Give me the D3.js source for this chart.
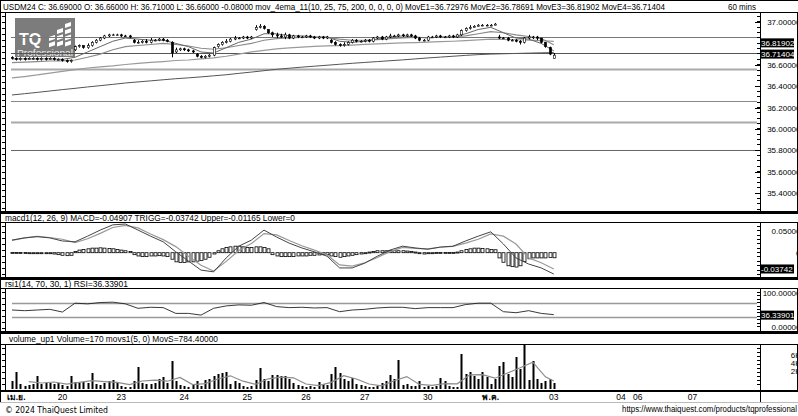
<!DOCTYPE html>
<html><head><meta charset="utf-8">
<script src="https://cdn.jsdelivr.net/npm/d3@7/dist/d3.min.js"></script>
<style>
html,body{margin:0;padding:0;background:#fff;overflow:hidden;}
svg{display:block;}
</style></head><body>
<svg id="chart" width="798" height="416"></svg>
<script>
// ---------------- data ----------------
const headerText = "USDM24 C: 36.69000 O: 36.66000 H: 36.71000 L: 36.66000 -0.08000 mov_4ema_11(10, 25, 75, 200, 0, 0, 0, 0) MovE1=36.72976 MovE2=36.78691 MovE3=36.81902 MovE4=36.71404";
const timeframe = "60 mins";
const macdTitle = "macd1(12, 26, 9) MACD=-0.04907 TRIGG=-0.03742 Upper=-0.01165 Lower=0";
const rsiTitle = "rsi1(14, 70, 30, 1) RSI=36.33901";
const volTitle = "volume_up1 Volume=170 movs1(5, 0) MovS=784.40000";
const footerLeft = "© 2024 ThaiQuest Limited";
const footerRight = "https://www.thaiquest.com/products/tqprofessional";

const opens = [36.67,36.66,36.65,36.66,36.65,36.66,36.66,36.65,36.66,36.65,
 36.66,36.65,36.65,36.64,36.63,36.74,36.77,36.78,36.76,36.78,
 36.81,36.83,36.85,36.87,36.88,36.88,36.88,36.87,36.87,36.83,
 36.81,36.81,36.82,36.81,36.83,36.83,36.84,36.83,36.81,36.72,
 36.74,36.75,36.74,36.73,36.70,36.68,36.67,36.68,36.69,36.77,
 36.79,36.81,36.82,36.84,36.85,36.85,36.86,36.85,36.93,36.95,
 36.96,36.93,36.90,36.88,36.87,36.86,36.88,36.85,36.87,36.86,
 36.86,36.87,36.86,36.85,36.86,36.85,36.83,36.81,36.79,36.78,
 36.79,36.81,36.83,36.82,36.82,36.83,36.82,36.85,36.86,36.84,
 36.86,36.87,36.87,36.88,36.87,36.88,36.87,36.85,36.83,36.83,
 36.86,36.86,36.87,36.86,36.86,36.87,36.86,36.88,36.92,36.94,
 36.95,36.96,36.97,36.97,36.97,36.97,36.86,36.85,36.85,36.83,
 36.83,36.82,36.81,36.85,36.86,36.86,36.85,36.81,36.76,36.66];
const highs = [36.68,36.67,36.67,36.67,36.67,36.67,36.67,36.67,36.67,36.67,
 36.67,36.66,36.66,36.65,36.65,36.78,36.79,36.78,36.80,36.82,
 36.84,36.86,36.88,36.89,36.89,36.89,36.89,36.88,36.88,36.84,
 36.83,36.83,36.84,36.85,36.84,36.85,36.85,36.84,36.82,36.76,
 36.76,36.76,36.75,36.74,36.71,36.69,36.69,36.70,36.77,36.80,
 36.82,36.84,36.85,36.87,36.86,36.87,36.87,36.87,36.97,36.98,
 36.97,36.93,36.91,36.90,36.89,36.90,36.89,36.88,36.88,36.87,
 36.88,36.88,36.87,36.87,36.87,36.87,36.84,36.82,36.80,36.81,
 36.82,36.84,36.84,36.83,36.84,36.84,36.86,36.87,36.87,36.87,
 36.89,36.88,36.89,36.89,36.89,36.89,36.88,36.86,36.84,36.87,
 36.87,36.88,36.88,36.87,36.88,36.88,36.89,36.93,36.95,36.97,
 36.97,36.98,36.98,36.98,36.98,36.99,36.88,36.86,36.86,36.84,
 36.84,36.83,36.86,36.88,36.87,36.87,36.85,36.81,36.77,36.71];
const lows = [36.65,36.64,36.64,36.64,36.65,36.65,36.64,36.64,36.64,36.65,
 36.64,36.64,36.63,36.62,36.62,36.73,36.76,36.75,36.75,36.77,
 36.80,36.82,36.84,36.86,36.87,36.87,36.86,36.86,36.85,36.80,
 36.80,36.80,36.80,36.80,36.82,36.82,36.82,36.81,36.67,36.71,
 36.73,36.73,36.72,36.71,36.67,36.66,36.66,36.67,36.68,36.76,
 36.78,36.80,36.81,36.83,36.84,36.84,36.84,36.84,36.92,36.94,
 36.93,36.89,36.86,36.85,36.85,36.84,36.84,36.84,36.85,36.85,
 36.85,36.85,36.84,36.84,36.84,36.84,36.80,36.78,36.77,36.77,
 36.78,36.80,36.81,36.81,36.81,36.81,36.81,36.84,36.83,36.83,
 36.85,36.86,36.86,36.86,36.86,36.86,36.84,36.82,36.82,36.82,
 36.85,36.85,36.85,36.85,36.85,36.85,36.85,36.87,36.91,36.93,
 36.95,36.96,36.96,36.96,36.96,36.97,36.84,36.84,36.82,36.82,
 36.81,36.79,36.80,36.84,36.84,36.83,36.80,36.76,36.69,36.66];
const closes = [36.66,36.65,36.66,36.65,36.66,36.66,36.65,36.66,36.65,36.66,
 36.65,36.65,36.64,36.63,36.64,36.77,36.78,36.76,36.78,36.81,
 36.83,36.85,36.87,36.88,36.88,36.88,36.87,36.87,36.86,36.81,
 36.81,36.82,36.81,36.83,36.83,36.84,36.83,36.82,36.71,36.74,
 36.75,36.74,36.73,36.72,36.68,36.67,36.68,36.69,36.76,36.79,
 36.81,36.82,36.84,36.85,36.85,36.86,36.85,36.86,36.95,36.96,
 36.94,36.90,36.88,36.87,36.86,36.88,36.85,36.87,36.86,36.86,
 36.87,36.86,36.85,36.86,36.85,36.86,36.81,36.79,36.78,36.79,
 36.81,36.83,36.82,36.82,36.83,36.82,36.85,36.86,36.84,36.86,
 36.87,36.87,36.88,36.87,36.88,36.87,36.85,36.83,36.83,36.86,
 36.86,36.87,36.86,36.86,36.87,36.86,36.88,36.92,36.94,36.95,
 36.96,36.97,36.97,36.97,36.97,36.98,36.85,36.85,36.83,36.83,
 36.82,36.81,36.85,36.86,36.86,36.85,36.81,36.77,36.70,36.69];

// moving averages, read every 3rd bar
const ema10 = [36.655,36.655,36.655,36.656,36.651,36.67,36.72,36.77,36.82,36.85,
 36.84,36.83,36.83,36.80,36.77,36.72,36.71,36.76,36.81,36.84,
 36.89,36.89,36.87,36.87,36.86,36.86,36.82,36.81,36.82,36.84,
 36.86,36.87,36.86,36.85,36.86,36.86,36.89,36.93,36.95,36.90,
 36.85,36.84,36.80,36.73];
const ema25 = [36.62,36.625,36.63,36.635,36.637,36.645,36.67,36.70,36.74,36.77,
 36.78,36.79,36.80,36.79,36.775,36.755,36.745,36.76,36.78,36.80,
 36.83,36.845,36.85,36.855,36.855,36.855,36.84,36.83,36.83,36.835,
 36.845,36.85,36.855,36.855,36.855,36.86,36.87,36.89,36.91,36.90,
 36.88,36.865,36.845,36.787];
const ema75 = [36.477,36.49,36.505,36.523,36.538,36.555,36.57,36.58,36.59,36.603,
 36.613,36.622,36.63,36.64,36.645,36.655,36.665,36.68,36.70,36.72,
 36.735,36.748,36.758,36.766,36.772,36.777,36.78,36.784,36.79,36.795,
 36.80,36.805,36.808,36.812,36.816,36.82,36.826,36.833,36.84,36.838,
 36.834,36.83,36.826,36.819];
const ema200 = [36.318,36.33,36.342,36.355,36.368,36.38,36.393,36.405,36.417,36.43,
 36.44,36.45,36.46,36.47,36.478,36.487,36.497,36.507,36.52,36.532,
 36.545,36.558,36.568,36.578,36.587,36.596,36.605,36.614,36.622,36.63,
 36.638,36.646,36.655,36.664,36.672,36.68,36.688,36.695,36.70,36.703,
 36.706,36.709,36.712,36.714];
const priceLevels = [36.86, 36.71, 36.56, 36.26, 36.065, 35.805];
const priceTicks = [37.0, 36.6, 36.4, 36.2, 36.0, 35.8, 35.6, 35.4];
const lastMovE = [36.81902, 36.71404];

// MACD
const macdLine = [0.029,0.034,0.037,0.034,0.027,0.025,0.038,0.052,0.064,0.066,
 0.052,0.038,0.025,0.002,-0.019,-0.040,-0.044,-0.012,0.015,0.029,
 0.052,0.036,0.022,0.011,0.002,-0.008,-0.035,-0.035,-0.024,-0.008,
 0.006,0.015,0.011,0.008,0.013,0.015,0.027,0.038,0.048,0.020,
 -0.012,-0.026,-0.035,-0.04907];
const signalLine = [0.0285,0.034,0.0375,0.035,0.031,0.023,0.032,0.0445,0.058,0.063,
 0.057,0.043,0.030,0.014,-0.008,-0.029,-0.042,-0.020,0.005,0.021,
 0.044,0.041,0.028,0.016,0.006,-0.005,-0.028,-0.031,-0.023,-0.011,
 0.0025,0.012,0.010,0.009,0.0125,0.0145,0.022,0.031,0.043,0.038,
 0.020,-0.012,-0.023,-0.03742];
const macdHist = [0.00075,0.00075,0.00045,0.0003,0,-0.00045,-0.00075,-0.0012,-0.0015,-0.0018,
 -0.003,-0.0045,-0.006,-0.0068,-0.006,0.003,0.006,0.0075,0.009,0.0105,
 0.0105,0.0112,0.0105,0.0098,0.009,0.0075,0.006,0.0045,0.003,-0.0045,
 -0.0075,-0.009,-0.009,-0.0075,-0.0075,-0.0068,-0.0075,-0.009,-0.015,-0.021,
 -0.0225,-0.0225,-0.021,-0.021,-0.0195,-0.018,-0.015,-0.0105,-0.003,0.0045,
 0.009,0.012,0.0135,0.015,0.015,0.0135,0.012,0.012,0.0135,0.0135,
 0.012,0.009,-0.0045,-0.0075,-0.009,-0.009,-0.009,-0.009,-0.0075,-0.0075,
 -0.0075,-0.006,-0.006,-0.0052,-0.0045,-0.0045,-0.0075,-0.009,-0.0105,-0.009,
 -0.0075,-0.006,-0.0045,-0.003,-0.0015,0.0015,0.003,0.0045,0.0045,0.0045,
 0.0052,0.0045,0.0045,0.0045,0.0038,0.003,0.0015,-0.0015,-0.003,-0.0015,
 0,0.00075,0.00075,0.00075,0.00075,0.00075,0.0015,0.0045,0.0075,0.009,
 0.0105,0.0105,0.0098,0.009,0.0075,0.0068,-0.012,-0.022,-0.03,-0.032,
 -0.033,-0.03,-0.02,-0.014,-0.012,-0.012,-0.012,-0.012,-0.011,-0.01165];
const macdTicks = [0.05, 0];
const macdLast = -0.03742;

// RSI
const rsiValues = [50,48,50,52,44,70,68,72,73,68,
 55,58,57,40,40,35,55,62,65,64,
 72,60,57,58,56,57,45,50,52,56,
 58,58,54,57,57,57,66,70,70,45,
 42,48,40,36.34];
const rsiLevels = [70, 30];
const rsiTicks = [100, 0];
const rsiLast = 36.33901;

// Volume
const volumes = [2000,4250,1250,750,1000,1250,3250,1250,1500,1500,
 1250,1500,1000,750,3250,1750,1500,1750,1500,4000,
 1250,1000,1500,2000,2250,1500,750,500,500,2000,
 5500,1500,1250,1250,1500,2500,3000,1500,7000,2000,
 1000,750,500,1250,2000,750,2250,2500,3250,3750,
 4000,4250,1250,2000,1500,750,500,750,2250,5250,
 2500,2000,3500,3500,3250,3250,2500,1500,1000,750,
 500,750,500,1750,1250,1000,3750,5500,4000,2500,
 2000,2750,1250,1000,750,500,500,750,1500,2000,
 3500,2500,7250,1000,1250,750,750,2000,500,750,
 500,750,2750,2000,750,500,500,8750,3750,4250,
 3250,2500,4250,3000,1250,2500,5750,6750,3750,3000,
 8000,5000,11000,2250,7000,2500,1500,2000,2500,1500];
const movs = [1850,1500,1750,1200,1650,2100,1850,1650,1100,2000,
 2200,1950,2900,1100,1350,2500,3300,1950,1150,2550,
 2950,2800,1250,850,1650,3350,2500,1250,800,2050,
 3100,1150,900,1350,1300,3550,3600,2700,4000,5300,
 6700,3050,2000];
const volTicks = [6000, 4000, 2000];
const volTickLabels = ["6K", "4K", "2K"];

// time axis
const dayLabels = ["เม.ย.","20","23","24","25","26","27","30","พ.ค.","03","04","06","07"];
const dayStartBar = [1,12,26,41,56,70,84,99,114,129,145,149,162];

// ---------------- drawing ----------------
const N = closes.length;
const sampleBars = d3.range(0, N, 3);
const movsBars = d3.range(4, N - 1, 3).concat([N - 1]);

const svg = d3.select("#chart");
const FONT = '"Liberation Sans", Arial, sans-serif';
const PLOT_L = 5, PLOT_R = 760, W = 798;

const x = d3.scaleLinear().domain([0, N - 1]).range([12, 12 + 4.2 * (N - 1)]);
const yMain = d3.scaleLinear().domain([35.4, 37.0]).range([193.2, 22]);
const yMacd = d3.scaleLinear().domain([-0.05, 0.05]).range([274.45, 230.95]);
const yRsi = d3.scaleLinear().domain([0, 100]).range([327, 293]);
const yVol = d3.scaleLinear().domain([0, 11000]).range([389, 345]);

svg.append("rect").attr("width", W).attr("height", 416).attr("fill", "#fff");

const defs = svg.append("defs");
function clip(id, y0, y1) {
  defs.append("clipPath").attr("id", id).append("rect")
    .attr("x", PLOT_L + 1).attr("y", y0).attr("width", PLOT_R - PLOT_L - 1).attr("height", y1 - y0);
  return svg.append("g").attr("clip-path", `url(#${id})`);
}
function hl(y, x1, x2, col, w) {
  svg.append("line").attr("x1", x1).attr("x2", x2).attr("y1", y).attr("y2", y)
    .attr("stroke", col).attr("stroke-width", w).attr("shape-rendering", "crispEdges");
}
function vl(xp, y1, y2, col, w) {
  svg.append("line").attr("x1", xp).attr("x2", xp).attr("y1", y1).attr("y2", y2)
    .attr("stroke", col).attr("stroke-width", w).attr("shape-rendering", "crispEdges");
}
function txt(s, xp, yp, opts = {}) {
  const t = svg.append("text").attr("x", xp).attr("y", yp).text(s)
    .attr("font-family", opts.font || FONT).attr("font-size", opts.size || 8)
    .attr("fill", opts.fill || "#000").attr("text-anchor", opts.anchor || "start");
  if (opts.bold) t.attr("font-weight", "bold");
  if (opts.len) t.attr("textLength", opts.len).attr("lengthAdjust", "spacingAndGlyphs");
  return t;
}
function leftTicks(y0, y1) {
  vl(PLOT_L + 0.5, y0, y1, "#000", 1);
  svg.append("g").selectAll("line").data(d3.range(y0 + 3, y1 - 1, 6)).join("line")
    .attr("x1", 2).attr("x2", PLOT_L).attr("y1", d => d + 0.5).attr("y2", d => d + 0.5)
    .attr("stroke", "#000").attr("stroke-width", 1).attr("shape-rendering", "crispEdges");
}
function rightMinor(y0, y1, step) {
  svg.append("g").selectAll("line").data(d3.range(y0 + 2, y1 - 1, step)).join("line")
    .attr("x1", PLOT_R - 3).attr("x2", PLOT_R).attr("y1", d => Math.round(d) + 0.5).attr("y2", d => Math.round(d) + 0.5)
    .attr("stroke", "#000").attr("stroke-width", 1).attr("shape-rendering", "crispEdges");
}
function valueBox(label, yc) {
  svg.append("rect").attr("x", PLOT_R).attr("y", yc - 4.5).attr("width", 34).attr("height", 9).attr("fill", "#000");
  txt(label, PLOT_R + 1, yc + 3, { fill: "#fff", size: 8 });
}

// ---- top header ----
hl(0.5, 0, W, "#000", 1);
hl(12.5, 0, W, "#000", 1);
vl(0.5, 0, 403, "#000", 1);
txt(headerText, 3, 10, { size: 8.6, len: 662 });
txt(timeframe, 728, 10, { size: 8.6, len: 28 });

// ---- main panel ----
leftTicks(13, 211);
// logo
const logo = svg.append("g").attr("opacity", 0.85);
logo.append("rect").attr("x", 15).attr("y", 18).attr("width", 60).attr("height", 39).attr("fill", "#666");
logo.append("text").attr("x", 19).attr("y", 45).text("TQ").attr("font-family", FONT).attr("font-weight", "bold")
  .attr("font-size", 16).attr("fill", "#fff");
[[49, 36, 11], [57, 29, 18], [65, 23, 24]].forEach(([bx, by, bh]) => {
  for (let yy = by; yy < by + bh; yy += 6.2) {
    logo.append("polygon").attr("points", `${bx},${yy + 5} ${bx + 6},${yy + 3} ${bx + 6},${yy - 1} ${bx},${yy + 1}`)
      .attr("fill", "#fff");
  }
});
logo.append("text").attr("x", 17).attr("y", 56).text("Professional").attr("font-family", FONT)
  .attr("font-size", 9.5).attr("fill", "#eee").attr("textLength", 56).attr("lengthAdjust", "spacingAndGlyphs");

const gMain = clip("cMain", 13, 211);
const levelColors = ["#777", "#555", "#aaa", "#888", "#aaa", "#666"];
gMain.selectAll("line.lvl").data(priceLevels).join("line")
  .attr("x1", PLOT_L + 6).attr("x2", PLOT_R - 3)
  .attr("y1", d => Math.round(yMain(d)) + 0.5).attr("y2", d => Math.round(yMain(d)) + 0.5)
  .attr("stroke", (d, i) => levelColors[i]).attr("stroke-width", (d, i) => i === 2 || i === 4 ? 2 : 1.2);

const emaLine = d3.line().x((d, k) => x(sampleBars[k])).y(d => yMain(d)).curve(d3.curveLinear);
[[ema200, "#555", 1], [ema75, "#9a9a9a", 1.2], [ema25, "#8a8a8a", 1.1], [ema10, "#666", 1]].forEach(([arr, col, w]) => {
  gMain.append("path").attr("d", emaLine(arr)).attr("fill", "none").attr("stroke", col).attr("stroke-width", w);
});

const bars = d3.range(N);
gMain.selectAll("line.wick").data(bars).join("line")
  .attr("x1", i => Math.round(x(i)) + 0.5).attr("x2", i => Math.round(x(i)) + 0.5)
  .attr("y1", i => yMain(highs[i])).attr("y2", i => yMain(lows[i]))
  .attr("stroke", "#000").attr("stroke-width", 1);
gMain.selectAll("rect.body").data(bars).join("rect")
  .attr("x", i => Math.round(x(i)) - 0.6)
  .attr("width", 2.2)
  .attr("y", i => yMain(Math.max(opens[i], closes[i])))
  .attr("height", i => Math.max(0.8, Math.abs(yMain(opens[i]) - yMain(closes[i]))))
  .attr("fill", i => closes[i] >= opens[i] ? "#fff" : "#000")
  .attr("stroke", "#000").attr("stroke-width", 0.6);

// main right axis
vl(PLOT_R + 0.5, 12.5, 211, "#000", 1);
vl(W - 0.5, 12.5, 211, "#000", 1);
rightMinor(14, 210, 5.35);
priceTicks.forEach(v => {
  hl(Math.round(yMain(v)) + 0.5, PLOT_R - 5, PLOT_R, "#000", 1);
  txt(v.toFixed(5), 800.5, yMain(v) + 3, { anchor: "end" });
});
lastMovE.forEach(v => valueBox(v.toFixed(5), yMain(v) + 1.5));
hl(211.5, 0, W, "#000", 2);

// ---- MACD ----
hl(213.5, 0, W, "#000", 1);
hl(222.5, 0, W, "#000", 1);
txt(macdTitle, 5, 220.5, { size: 8.5, len: 290 });
leftTicks(223, 277);
const gMacd = clip("cMacd", 223, 277);
const y0m = yMacd(0);
gMacd.selectAll("rect.h").data(bars).join("rect")
  .attr("x", i => Math.round(x(i)) - 1)
  .attr("width", 3)
  .attr("y", i => Math.min(y0m, yMacd(macdHist[i])))
  .attr("height", i => Math.max(1, Math.abs(yMacd(macdHist[i]) - y0m)))
  .attr("fill", "#fff").attr("stroke", "#000").attr("stroke-width", 0.8);
const mLine = d3.line().x((d, k) => x(sampleBars[k])).y(d => yMacd(d));
gMacd.append("path").attr("d", mLine(signalLine)).attr("fill", "none").attr("stroke", "#999").attr("stroke-width", 1.2);
gMacd.append("path").attr("d", mLine(macdLine)).attr("fill", "none").attr("stroke", "#444").attr("stroke-width", 1);
vl(PLOT_R + 0.5, 222.5, 277, "#000", 1);
vl(W - 0.5, 222.5, 277, "#000", 1);
rightMinor(224, 276, 4.35);
macdTicks.forEach(v => txt(v === 0 ? "0" : v.toFixed(5), 800.5, yMacd(v) + 3, { anchor: "end" }));
valueBox(macdLast.toFixed(5), yMacd(macdLast));
hl(277.5, 0, W, "#000", 2);

// ---- RSI ----
hl(279.5, 0, W, "#000", 1);
hl(288.5, 0, W, "#000", 1);
txt(rsiTitle, 5, 286.5, { size: 8.5, len: 123 });
leftTicks(289, 331);
const gRsi = clip("cRsi", 289, 331);
gRsi.selectAll("line.lv").data(rsiLevels).join("line")
  .attr("x1", 12).attr("x2", PLOT_R - 3)
  .attr("y1", d => Math.round(yRsi(d)) + 0.5).attr("y2", d => Math.round(yRsi(d)) + 0.5)
  .attr("stroke", "#999").attr("stroke-width", 1.5);
gRsi.append("path").attr("d", d3.line().x((d, k) => x(sampleBars[k])).y(d => yRsi(d))(rsiValues))
  .attr("fill", "none").attr("stroke", "#222").attr("stroke-width", 0.9);
vl(PLOT_R + 0.5, 288.5, 331, "#000", 1);
vl(W - 0.5, 288.5, 331, "#000", 1);
rightMinor(290, 330, 3.4);
rsiTicks.forEach(v => txt(v.toFixed(5), 800.5, yRsi(v) + 3, { anchor: "end" }));
valueBox(rsiLast.toFixed(5), yRsi(rsiLast) + 0.5);
hl(331.5, 0, W, "#000", 2);

// ---- Volume ----
hl(333.5, 0, W, "#000", 1);
hl(344.5, 0, W, "#000", 1);
txt(volTitle, 9, 341.5, { size: 8.5, len: 209 });
leftTicks(345, 390);
const gVol = clip("cVol", 345, 390);
gVol.selectAll("rect.v").data(bars).join("rect")
  .attr("x", i => Math.round(x(i)) - 0.5)
  .attr("width", 2)
  .attr("y", i => yVol(volumes[i]))
  .attr("height", i => yVol(0) - yVol(volumes[i]))
  .attr("fill", "#000");
gVol.append("path").attr("d", d3.line().x((d, k) => x(movsBars[k])).y(d => yVol(d))(movs))
  .attr("fill", "none").attr("stroke", "#8c8c8c").attr("stroke-width", 1.2);
vl(PLOT_R + 0.5, 344.5, 390, "#000", 1);
vl(W - 0.5, 344.5, 390, "#000", 1);
rightMinor(346, 389, 4);
volTicks.forEach((v, k) => txt(volTickLabels[k], 800.5, yVol(v) - 7, { anchor: "end" }));
hl(390.5, 0, W, "#000", 2);

// ---- time axis ----
dayLabels.forEach((s, k) => {
  const isMonth = isNaN(+s);
  txt(s, x(dayStartBar[k]), 399.5, { anchor: "middle", size: 8.5, bold: isMonth });
});
vl(PLOT_R + 0.5, 390, 402, "#000", 1);
hl(402.5, 0, W, "#bbb", 1);
txt(footerLeft, 5, 412.5, { font: '"DejaVu Sans", Verdana, sans-serif', size: 8.5, len: 103 });
txt(footerRight, 622, 412, { size: 8.5, len: 175 });
</script>
</body></html>
